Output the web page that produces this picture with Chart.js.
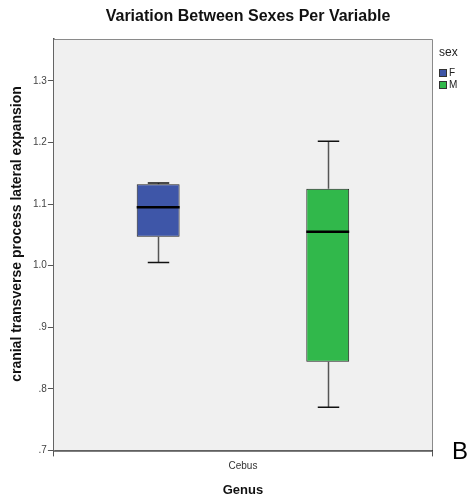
<!DOCTYPE html>
<html>
<head>
<meta charset="utf-8">
<script src="https://cdn.jsdelivr.net/npm/chart.js@4"></script>
<style>
    html, body { margin: 0; padding: 0; background: #fff; }
    #wrap { width: 474px; height: 502px; position: relative; }
</style>
</head>
<body>
<div id="wrap"><canvas id="chart"></canvas></div>
<script>
// Box plot values
const categories = ['Cebus'];
const sexes = ['F', 'M'];
const sexColors = ['#3e56a8', '#31b84b'];
const whiskerLow = [1.005, 0.770];
const q1 = [1.047, 0.844];
const median = [1.095, 1.055];
const q3 = [1.132, 1.125];
const whiskerHigh = [1.134, 1.202];
const yTicks = [0.7, 0.8, 0.9, 1.0, 1.1, 1.2, 1.3];
const chartTitle = 'Variation Between Sexes Per Variable';
const yTitle = 'cranial transverse process lateral expansion';

const FONT = '"Liberation Sans", Arial, sans-serif';

const frameAndExtras = {
    id: 'frameAndExtras',
    beforeDatasetsDraw(chart) {
        const { ctx, chartArea: a } = chart;
        ctx.save();
        ctx.fillStyle = '#f0f0f0';
        ctx.fillRect(a.left, a.top, a.right - a.left, a.bottom - a.top);
        ctx.strokeStyle = '#8a8a8a';
        ctx.lineWidth = 1;
        ctx.beginPath();
        ctx.moveTo(a.left, a.top + 0.5);
        ctx.lineTo(a.right + 0.5, a.top + 0.5);
        ctx.lineTo(a.right + 0.5, a.bottom);
        ctx.stroke();
        ctx.restore();
    },
    afterDatasetsDraw(chart) {
        const { ctx } = chart;
        const y = chart.scales.y;
        ctx.save();
        chart.data.datasets.forEach((ds, i) => {
            const bar = chart.getDatasetMeta(i).data[0];
            const cx = Math.round(bar.x) + 0.5;
            const half = bar.width / 2;
            const cap = half / 2;
            const yLo = y.getPixelForValue(whiskerLow[i]);
            const yHi = y.getPixelForValue(whiskerHigh[i]);
            const yQ1 = y.getPixelForValue(q1[i]);
            const yQ3 = y.getPixelForValue(q3[i]);
            const yMed = y.getPixelForValue(median[i]);
            // whisker stems
            ctx.strokeStyle = '#555';
            ctx.lineWidth = 1.5;
            ctx.beginPath();
            ctx.moveTo(cx, yQ3); ctx.lineTo(cx, yHi);
            ctx.moveTo(cx, yQ1); ctx.lineTo(cx, yLo);
            ctx.stroke();
            // caps
            ctx.strokeStyle = '#111';
            ctx.lineWidth = 1.5;
            ctx.beginPath();
            ctx.moveTo(cx - cap, yHi); ctx.lineTo(cx + cap, yHi);
            ctx.moveTo(cx - cap, yLo); ctx.lineTo(cx + cap, yLo);
            ctx.stroke();
            // median
            ctx.strokeStyle = '#000';
            ctx.lineWidth = 2.5;
            ctx.beginPath();
            ctx.moveTo(bar.x - half, yMed); ctx.lineTo(bar.x + half, yMed);
            ctx.stroke();
        });
        ctx.restore();
    },
    afterDraw(chart) {
        const { ctx, chartArea: a } = chart;
        ctx.save();
        // title
        ctx.fillStyle = '#111';
        ctx.font = 'bold 16px ' + FONT;
        ctx.textAlign = 'center';
        ctx.textBaseline = 'middle';
        ctx.fillText(chartTitle, 248, 17);
        // y axis title, a little above the plot centre like the original
        ctx.save();
        ctx.translate(17, 234);
        ctx.rotate(-Math.PI / 2);
        ctx.font = 'bold 14px ' + FONT;
        ctx.fillText(yTitle, 0, 0);
        ctx.restore();
        // legend
        ctx.textAlign = 'left';
        ctx.fillStyle = '#222';
        ctx.font = '12px ' + FONT;
        ctx.fillText('sex', a.right + 7, 53);
        sexes.forEach((s, i) => {
            const yy = 69 + i * 12;
            ctx.fillStyle = sexColors[i];
            ctx.fillRect(a.right + 7, yy, 7, 7);
            ctx.strokeStyle = '#333';
            ctx.lineWidth = 1;
            ctx.strokeRect(a.right + 7.5, yy + 0.5, 7, 7);
            ctx.fillStyle = '#222';
            ctx.font = '10px ' + FONT;
            ctx.fillText(s, a.right + 17, yy + 4);
        });
        // panel letter
        ctx.fillStyle = '#000';
        ctx.font = '24px ' + FONT;
        ctx.fillText('B', a.right + 20, 452);
        ctx.restore();
    }
};

new Chart(document.getElementById('chart'), {
    type: 'bar',
    data: {
        labels: categories,
        datasets: sexes.map((s, i) => ({
            label: s,
            data: [[q1[i], q3[i]]],
            backgroundColor: sexColors[i],
            borderColor: '#222',
            borderWidth: 1,
            borderSkipped: false,
            categoryPercentage: 0.897,
            barPercentage: 0.253
        }))
    },
    options: {
        responsive: true,
        maintainAspectRatio: false,
        animation: false,
        layout: { padding: { left: 32, right: 42, top: 39, bottom: 4 } },
        plugins: {
            legend: { display: false },
            tooltip: { enabled: false },
            title: { display: false }
        },
        scales: {
            x: {
                grid: { drawOnChartArea: false, tickLength: 6, color: '#555' },
                border: { display: true, color: '#000', width: 1.5 },
                ticks: {
                    color: '#333',
                    padding: 4,
                    font: { family: FONT, size: 10 }
                },
                title: {
                    display: true,
                    text: 'Genus',
                    color: '#111',
                    font: { family: FONT, size: 13, weight: 'bold' },
                    padding: { top: 6, bottom: 0 }
                }
            },
            y: {
                min: 0.7,
                max: 1.368,
                afterBuildTicks: scale => { scale.ticks = yTicks.map(v => ({ value: v })); },
                grid: { drawOnChartArea: false, tickLength: 6, color: '#555' },
                border: { display: true, color: '#555', width: 1.5 },
                ticks: {
                    color: '#444',
                    padding: 1,
                    font: { family: FONT, size: 10 },
                    callback: v => {
                        const s = Number(v).toFixed(1);
                        return s.startsWith('0') ? s.slice(1) : s;
                    }
                },
                title: { display: false }
            }
        }
    },
    plugins: [frameAndExtras]
});
</script>
</body>
</html>
